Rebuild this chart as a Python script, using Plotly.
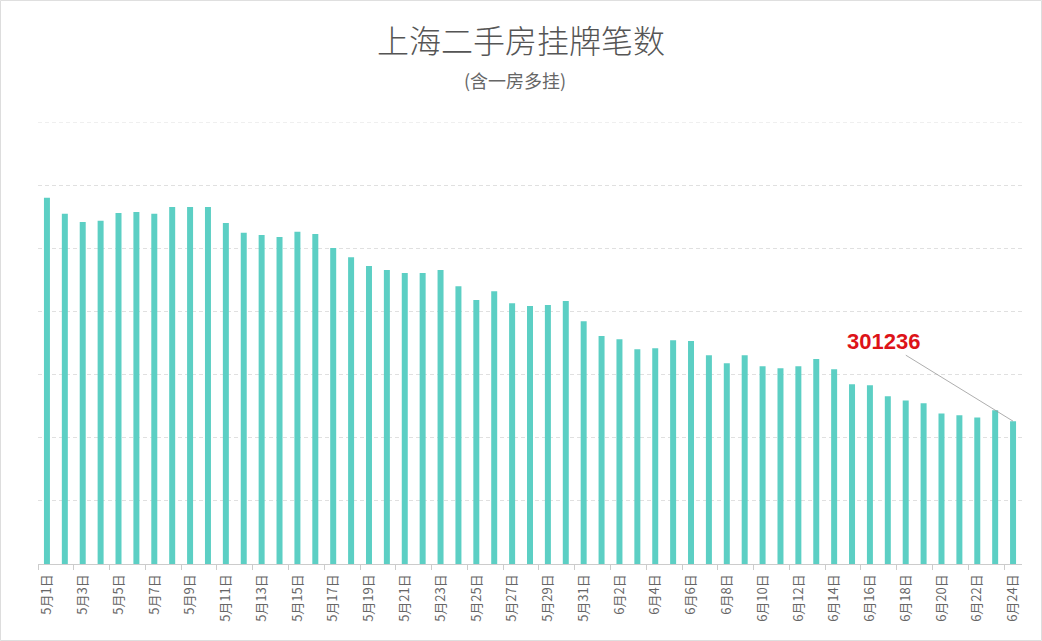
import plotly.graph_objects as go

#%% datos
fechas = [f"5月{d}日" for d in range(1, 32)] + [f"6月{d}日" for d in range(1, 25)]

listados = [
    372000, 366900, 364300, 364700, 367200, 367500, 366900, 369100, 369100, 369100,
    364000, 360900, 360200, 359600, 361200, 360500, 356100, 353200, 350400, 349100,
    348200, 348200, 349100, 344000, 339600, 342400, 338600, 337700, 338000, 339300,
    332900, 328200, 327200, 324000, 324300, 326900, 326600, 322100, 319600, 322100,
    318600, 318000, 318600, 320900, 317700, 312900, 312600, 309100, 307800, 306900,
    303700, 303100, 302400, 304700, 301236,
]

titulo = "上海二手房挂牌笔数"
subtitulo = "(含一房多挂)"

y_min, y_max, y_paso = 256000, 396000, 20000

color_barra = "#5ccfc4"
fuente = "Noto Sans CJK SC"

#%% grafico
fig = go.Figure(go.Bar(
    x=fechas,
    y=listados,
    marker_color=color_barra,
    marker_line_width=0,
))

fig.update_layout(
    width=1042,
    height=641,
    margin=dict(l=38, r=20, t=122, b=77),
    plot_bgcolor="white",
    paper_bgcolor="white",
    font_family=fuente,
    bargap=0.665,
    showlegend=False,
    title=dict(
        text=titulo,
        x=0.5,
        xanchor="center",
        y=0.935,
        yanchor="middle",
        font=dict(size=32, color="#555555", family=fuente, weight=300),
    ),
)

fig.add_annotation(
    text=subtitulo,
    xref="paper", yref="paper",
    x=0.485, y=1 + 42 / 442,
    xanchor="center", yanchor="middle",
    showarrow=False,
    font=dict(size=18, color="#666666", family=fuente),
)

fig.add_annotation(
    x=fechas[-1],
    y=listados[-1],
    text=f"<b>{listados[-1]}</b>",
    font=dict(size=22, color="#dd1318", family="Liberation Sans"),
    showarrow=True,
    arrowhead=0,
    arrowwidth=0.8,
    arrowcolor="#999999",
    ax=-130,
    ay=-80,
    standoff=0,
)

fig.update_xaxes(
    type="category",
    tickangle=-90,
    dtick=2,
    tickson="boundaries",
    ticks="outside",
    ticklen=5,
    tickcolor="#cccccc",
    showline=True,
    linecolor="#cccccc",
    linewidth=1,
    showgrid=False,
    ticklabelstandoff=4,
    tickfont=dict(size=13, color="#666666", family=fuente),
)

fig.update_yaxes(
    range=[y_min, y_max],
    tick0=y_min,
    dtick=y_paso,
    showticklabels=False,
    showgrid=True,
    gridcolor="#e0e0e0",
    griddash="4px,3px",
    zeroline=False,
    showline=False,
)

# linea de grilla superior (plotly no la dibuja en el borde)
fig.add_shape(
    type="line",
    xref="paper", yref="y",
    x0=0, x1=1, y0=y_max, y1=y_max,
    line=dict(color="#e0e0e0", width=1, dash="4px,3px"),
    layer="below",
)

# marco de la imagen
fig.add_shape(
    type="rect",
    xref="paper", yref="paper",
    x0=-38 / 984 + 0.0005, x1=1 + 20 / 984 - 0.0005,
    y0=-77 / 442 + 0.001, y1=1 + 122 / 442 - 0.001,
    line=dict(color="#dddddd", width=1),
    layer="below",
)

fig.write_html(
    "out.html",
    config={"displayModeBar": False},
    post_script="document.body.style.margin='0';",
)
